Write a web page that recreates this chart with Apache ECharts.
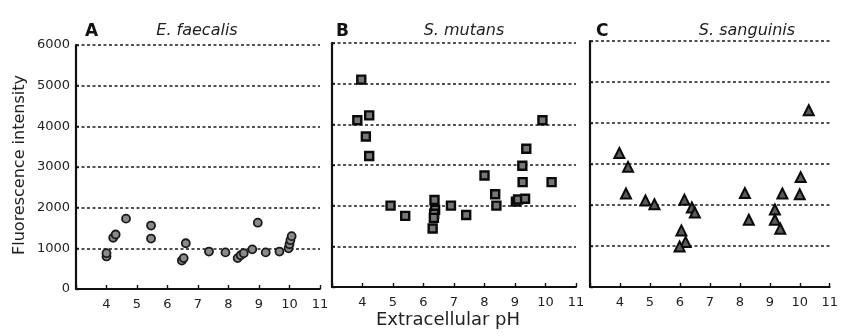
<!DOCTYPE html>
<html><head><meta charset="utf-8">
<script src="https://cdn.jsdelivr.net/npm/echarts@6/dist/echarts.min.js"></script>
<style>html,body{margin:0;padding:0;background:#fff}#c{width:841px;height:336px}</style>
</head><body><div id="c"></div>
<script>
// Panel A: E. faecalis (circles)
var phA  = [4.0, 4.0, 4.22, 4.3, 4.64, 5.46, 5.46, 6.6, 6.47, 6.53, 7.36, 7.9, 8.3, 8.4, 8.5, 8.78, 8.96, 9.22, 9.67, 9.97, 10.0, 10.03, 10.07];
var fluA = [800, 880, 1260, 1340, 1730, 1560, 1240, 1125, 700, 760, 920, 900, 760, 830, 880, 975, 1630, 900, 920, 1000, 1100, 1200, 1300];
// Panel B: S. mutans (squares)
var phB  = [3.96, 3.83, 4.22, 4.11, 4.22, 4.92, 5.4, 6.36, 6.38, 6.35, 6.34, 6.3, 6.9, 7.4, 8.0, 8.35, 8.39, 9.03, 9.1, 9.24, 9.37, 9.25, 9.33, 9.9, 10.2];
var fluB = [5100, 4100, 4220, 3700, 3220, 2000, 1750, 2140, 1900, 1800, 1700, 1440, 2000, 1770, 2740, 2280, 2000, 2100, 2150, 2980, 3400, 2580, 2170, 4100, 2580];
// Panel C: S. sanguinis (triangles)
var phC  = [3.98, 4.27, 4.2, 4.85, 5.15, 6.15, 6.4, 6.5, 6.05, 6.19, 5.99, 8.17, 8.3, 9.17, 9.17, 9.35, 9.42, 10.03, 10.0, 10.3];
var fluC = [3270, 2930, 2280, 2110, 2020, 2130, 1940, 1815, 1380, 1100, 990, 2290, 1640, 1890, 1640, 1420, 2280, 2680, 2260, 4310];
// Axis ticks
var xTicks = [3, 4, 5, 6, 7, 8, 9, 10, 11];
var yTicks = [0, 1000, 2000, 3000, 4000, 5000, 6000];
var panelLetters = ['A', 'B', 'C'];
var panelTitles = ['E. faecalis', 'S. mutans', 'S. sanguinis'];

var FONT = '"DejaVu Sans", sans-serif';
function pairs(xs, ys){ return xs.map(function(x,i){ return [x, ys[i]]; }); }

var grids = [
  {left: 76, top: 45, width: 244, height: 244},
  {left: 332, top: 43, width: 244, height: 244},
  {left: 590, top: 41, width: 246, height: 246}
];
var xAxes = [], yAxes = [];
grids.forEach(function(g, i){
  xAxes.push({
    gridIndex: i, type: 'value', min: xTicks[0], max: xTicks[xTicks.length-1], interval: 1,
    axisLine: {show: true, lineStyle: {color: '#111', width: 1.8}},
    axisTick: {show: true, inside: true, length: 4, lineStyle: {color: '#111', width: 1.4}},
    axisLabel: {margin: 9, fontSize: 13, fontFamily: FONT, color: '#222',
      formatter: function(v){ return v === xTicks[0] ? '' : String(v); }},
    splitLine: {show: false}
  });
  yAxes.push({
    gridIndex: i, type: 'value', min: yTicks[0], max: yTicks[yTicks.length-1], interval: 1000,
    axisLine: {show: true, lineStyle: {color: '#111', width: 2.2}},
    axisTick: {show: true, inside: true, length: 3, lineStyle: {color: '#111', width: 1.4}},
    axisLabel: {show: i === 0, margin: 6, fontSize: 13, fontFamily: FONT, color: '#222',
      formatter: function(v){ return String(v); }},
    splitLine: {show: true, lineStyle: {color: '#1a1a1a', width: 1.5, type: [3, 2.5]}}
  });
});

var titles = [];
var letterX = [80, 331, 591];
var titleX = [192, 459, 742];
for (var i = 0; i < 3; i++) {
  titles.push({text: panelLetters[i], left: letterX[i], top: 18,
    textStyle: {fontSize: 17, fontWeight: 'bold', fontFamily: FONT, color: '#111'}});
  titles.push({text: panelTitles[i], left: titleX[i], top: 18, textAlign: 'center',
    textStyle: {fontSize: 16, fontWeight: 'normal', fontStyle: 'italic', fontFamily: FONT, color: '#222'}});
}

var chart = echarts.init(document.getElementById('c'), null, {renderer: 'canvas'});
chart.setOption({
  animation: false,
  backgroundColor: '#fff',
  title: titles,
  grid: grids,
  xAxis: xAxes,
  yAxis: yAxes,
  graphic: [
    {type: 'text', x: 20, y: 165, rotation: Math.PI/2,
      style: {text: 'Fluorescence intensity', font: '16px "DejaVu Sans", sans-serif', fill: '#222', textAlign: 'center', textVerticalAlign: 'middle'}},
    {type: 'text', x: 448, y: 320,
      style: {text: 'Extracellular pH', font: '18px "DejaVu Sans", sans-serif', fill: '#222', textAlign: 'center', textVerticalAlign: 'middle'}}
  ],
  series: [
    {type: 'scatter', xAxisIndex: 0, yAxisIndex: 0, data: pairs(phA, fluA), symbol: 'circle', symbolSize: 8,
      itemStyle: {color: '#8a8a8a', borderColor: '#1a1a1a', borderWidth: 1.8, opacity: 1}},
    {type: 'scatter', xAxisIndex: 1, yAxisIndex: 1, data: pairs(phB, fluB), symbol: 'rect', symbolSize: 8,
      itemStyle: {color: '#777', borderColor: '#0a0a0a', borderWidth: 2.4, opacity: 1}},
    {type: 'scatter', xAxisIndex: 2, yAxisIndex: 2, data: pairs(phC, fluC), symbol: 'triangle', symbolSize: 10,
      itemStyle: {color: '#5a5a5a', borderColor: '#0a0a0a', borderWidth: 2, opacity: 1}}
  ]
});
</script></body></html>
